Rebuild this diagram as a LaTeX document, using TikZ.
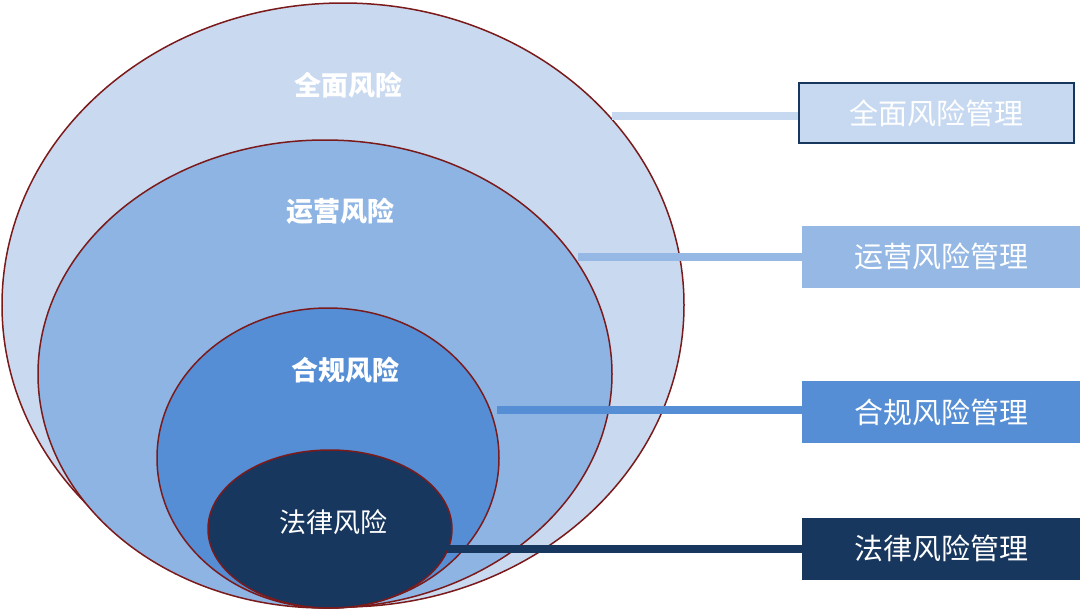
\documentclass[tikz,border=0pt]{standalone}
\usepackage{fontspec}
\newfontfamily\cjk{Noto Sans CJK SC}
\begin{document}
\begin{tikzpicture}[x=1pt,y=-1pt,
  ring/.style={draw=ringc,line width=1.5pt},
  lab/.style={text=white,font=\cjk\bfseries\fontsize{27}{30}\selectfont},
  box/.style={minimum width=278pt,minimum height=62pt,inner sep=0pt,text=white,font=\cjk\fontsize{29}{32}\selectfont},
  bar/.style={line width=8pt}]
\definecolor{ringc}{HTML}{7B1A1A}
\definecolor{c1}{HTML}{C9D9EF}
\definecolor{c2}{HTML}{8EB4E3}
\definecolor{c3}{HTML}{558ED5}
\definecolor{c4}{HTML}{17375E}
\definecolor{b1}{HTML}{C6D9F1}
\definecolor{b2}{HTML}{95B8E5}
\useasboundingbox (0,0) rectangle (1080,611);
\fill[white] (0,0) rectangle (1080,611);
\filldraw[ring,fill=c1] (343,305) ellipse [x radius=341,y radius=302];
\filldraw[ring,fill=c2] (325,374) ellipse [x radius=287,y radius=234];
\filldraw[ring,fill=c3] (328,458) ellipse [x radius=171,y radius=150];
\filldraw[ring,fill=c4] (330,529) ellipse [x radius=122,y radius=79];
\node[lab] (l1) at (348,85) {全面风险};
\node[lab] (l2) at (340,211) {运营风险};
\node[lab] (l3) at (345,370) {合规风险};
\node[lab,font=\cjk\fontsize{27}{30}\selectfont] (l4) at (333,522) {法律风险};
\coordinate (e1) at (612,116);
\coordinate (e2) at (578,257);
\coordinate (e3) at (497,410);
\coordinate (e4) at (447,549);
\node[box,fill=b1,draw=c4,line width=2pt,minimum width=275pt,minimum height=60pt] (m1) at (936.5,113) {全面风险管理};
\node[box,fill=b2] (m2) at (941,256.5) {运营风险管理};
\node[box,fill=c3] (m3) at (941,412) {合规风险管理};
\node[box,fill=c4] (m4) at (941,548.5) {法律风险管理};
\begin{scope}[on background layer/.try]
\end{scope}
\draw[bar,draw=b1] (e1) -- (e1 -| m1.west);
\draw[bar,draw=b2] (e2) -- (e2 -| m2.west);
\draw[bar,draw=c3] (e3) -- (e3 -| m3.west);
\draw[bar,draw=c4] (e4) -- (e4 -| m4.west);
\end{tikzpicture}
\end{document}
